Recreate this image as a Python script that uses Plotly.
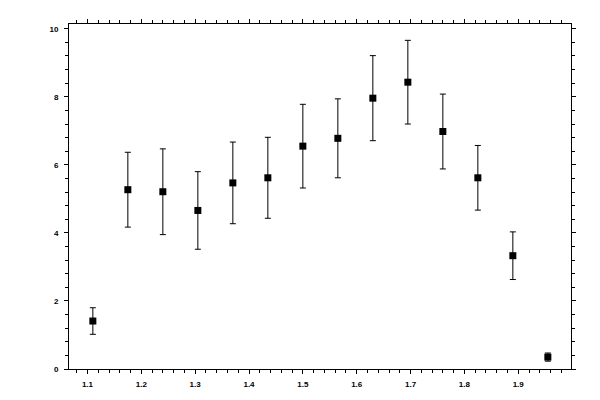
import plotly.graph_objects as go

# measured points (x, value, symmetric error)
x_vals = [1.11, 1.175, 1.24, 1.305, 1.37, 1.435, 1.5, 1.565, 1.63, 1.695, 1.76, 1.825, 1.89, 1.955]
y_vals = [1.41, 5.27, 5.21, 4.66, 5.47, 5.62, 6.55, 6.78, 7.96, 8.43, 6.98, 5.62, 3.33, 0.35]
y_err = [0.39, 1.10, 1.26, 1.14, 1.20, 1.19, 1.23, 1.16, 1.25, 1.23, 1.10, 0.95, 0.70, 0.12]

x_range = [1.0657, 1.998]
y_range = [0, 10.14]

fnt = dict(family="Liberation Sans", size=8, color="black", weight="bold")

fig = go.Figure()
fig.add_trace(go.Scatter(
    x=x_vals, y=y_vals, mode="markers",
    marker=dict(symbol="square", size=7, color="black"),
    error_y=dict(type="data", array=y_err, visible=True, color="black", thickness=1, width=3),
    showlegend=False, hoverinfo="x+y"))

common = dict(showgrid=False, zeroline=False, showline=True, linecolor="black", linewidth=1,
              ticks="outside", ticklen=4, tickwidth=1, tickcolor="black", mirror="ticks",
              tickfont=fnt)

# page body has an 8px margin, so shift the plot area back
fig.update_layout(
    width=600, height=400,
    margin=dict(l=61, r=37, t=11, b=39),
    paper_bgcolor="white", plot_bgcolor="white",
    xaxis=dict(range=x_range, dtick=0.1, tick0=1.0, tickformat=".1f",
               minor=dict(dtick=0.02, tick0=1.0, ticks="outside", ticklen=3, tickcolor="black"),
               ticklabelstandoff=3, **common),
    yaxis=dict(range=y_range, dtick=2, tick0=0,
               minor=dict(dtick=0.4, tick0=0, ticks="outside", ticklen=3, tickcolor="black"),
               ticklabelstandoff=4, **common),
    # overlay axes: inner half of the major ticks
    xaxis2=dict(range=x_range, dtick=0.1, tick0=1.0, overlaying="x", anchor="y",
                showgrid=False, zeroline=False, showline=False, showticklabels=False,
                ticks="inside", ticklen=4, tickcolor="black", mirror="ticks"),
    yaxis2=dict(range=y_range, dtick=2, tick0=0, overlaying="y", anchor="x",
                showgrid=False, zeroline=False, showline=False, showticklabels=False,
                ticks="inside", ticklen=4, tickcolor="black", mirror="ticks"),
)

fig.write_html("out.html")
